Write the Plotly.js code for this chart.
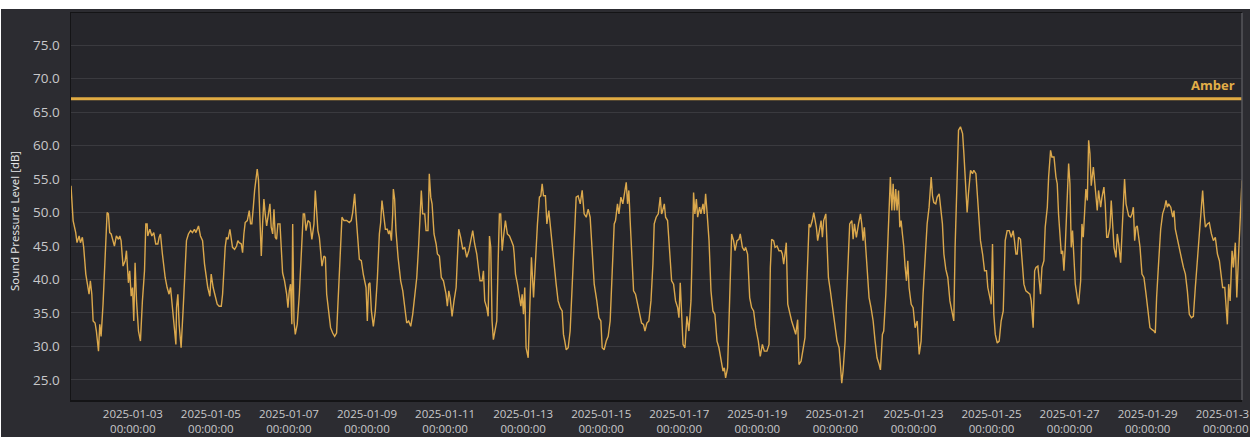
<!DOCTYPE html>
<html><head><meta charset="utf-8">
<script src="https://cdn.plot.ly/plotly-3.0.1.min.js"></script>
<style>
html,body{margin:0;padding:0;background:#ffffff;width:1250px;height:437px;overflow:hidden}
#chart{position:absolute;left:1px;top:9px;width:1249px;height:428px}
</style>
</head><body><div id="chart"></div>
<script>
// Hours since 2025-01-01 00:00 and sound pressure level readings [dB]
const hours = [
10.0,11.3,12.9,13.7,15.0,15.8,17.0,17.8,19.1,20.3,
21.1,21.9,22.8,23.6,24.8,25.6,26.9,27.7,28.5,29.7,
31.0,32.2,33.0,33.8,34.7,35.5,36.7,37.9,39.2,40.0,
40.8,42.0,43.3,44.1,45.3,46.1,47.0,47.8,48.6,49.4,
50.3,51.5,52.7,53.9,55.2,56.0,56.8,57.2,58.5,59.7,
60.9,62.1,63.4,64.2,65.0,66.2,67.9,69.1,70.3,71.2,
72.4,73.6,74.5,74.9,75.7,76.5,77.7,79.0,80.2,81.0,
82.2,83.5,84.7,85.9,86.8,88.4,89.6,90.9,92.1,93.3,
94.1,95.4,96.2,97.4,98.7,99.9,
101.1,102.4,103.2,104.0,104.8,105.6,106.5,107.7,108.5,109.3,
110.6,111.8,112.6,113.4,114.7,115.5,116.3,117.1,118.4,119.6,
120.4,121.2,122.1,122.9,124.5,125.3,126.2,127.0,127.8,128.6,
129.4,130.3,131.1,132.3,133.1,134.0,134.8,135.6,136.4,137.2,
138.5,139.3,140.1,141.3,142.6,143.4,144.2,145.0,145.8,146.3,
147.1,147.9,149.1,150.4,151.6,152.8,153.6,154.5,155.7,156.9,
158.1,159.4,160.2,161.0,161.8,162.7,163.5,164.3,165.5,166.4,
167.2,168.4,169.6,170.9,172.1,173.3,174.6,175.8,176.6,177.8,
179.5,181.1,182.3,183.2,184.4,185.2,186.5,187.3,188.5,189.7,
191.4,192.2,193.0,193.8,194.7,195.9,197.1,198.4,199.6,200.4,
201.2,202.0,203.3,204.5,205.3,206.1,207.0,207.8,208.2,209.0,
209.8,211.1,212.7,214.0,215.2,216.4,217.6,218.9,220.1,221.3,
222.6,223.8,224.6,225.4,226.2,227.5,228.3,229.5,230.3,231.2,
232.0,233.2,234.5,235.3,236.5,237.7,239.0,239.8,240.6,241.4,
242.3,243.1,244.3,245.5,246.8,247.6,248.4,249.6,250.9,252.1,
253.3,254.6,255.8,257.0,258.2,259.5,260.7,261.5,262.8,263.6,
264.4,265.6,266.5,267.3,268.1,268.9,269.7,271.0,271.8,272.6,
273.4,274.2,275.1,275.9,277.1,278.3,279.6,280.8,282.0,
282.5,283.3,284.5,285.7,286.6,287.4,288.2,289.0,289.8,291.1,
291.9,293.1,294.4,295.6,296.8,298.0,298.9,299.7,300.5,301.7,
302.6,303.8,304.6,305.8,307.1,308.3,309.5,310.8,312.0,312.8,
313.6,314.5,315.7,316.9,318.2,319.4,320.6,321.8,323.1,324.3,
325.5,326.8,328.0,329.2,330.5,331.7,333.3,334.6,335.8,336.6,
337.8,339.1,340.3,341.5,342.8,344.0,344.8,346.0,346.9,348.1,
349.3,350.1,351.4,352.2,353.0,353.8,354.7,355.9,357.1,358.4,
359.6,360.8,362.0,362.9,364.1,365.3,366.6,367.8,368.6,369.8,
371.1,372.3,373.1,
373.5,374.8,375.6,376.8,378.1,379.3,380.5,381.7,383.0,383.8,
384.6,385.4,386.3,387.5,388.7,389.9,391.2,392.0,392.8,393.6,
394.5,395.3,396.5,397.3,398.6,399.4,400.2,401.0,402.3,403.5,
404.7,405.9,407.2,408.4,409.6,410.9,411.7,412.5,413.7,414.6,
415.4,416.2,417.4,418.3,419.5,420.7,421.5,422.8,424.0,424.8,
426.0,427.3,428.5,429.7,431.0,432.6,433.8,435.1,436.3,437.9,
439.2,440.0,440.8,442.0,442.9,444.1,445.3,446.6,447.4,448.2,
449.0,449.8,450.7,451.9,453.1,454.4,455.6,456.8,457.6,458.9,
460.1,461.3,462.5,463.8,
464.6,465.8,466.7,467.5,468.3,469.1,470.4,471.2,472.0,472.8,
474.1,474.9,475.7,476.9,478.2,479.4,481.0,482.3,483.1,483.9,
484.7,486.0,486.8,488.0,488.8,490.1,490.9,491.7,492.9,494.2,
495.4,496.2,497.0,497.8,498.7,499.5,500.7,501.9,503.2,504.4,
505.6,506.9,507.7,508.9,509.7,511.0,512.2,513.0,513.8,514.7,
515.5,516.3,517.1,517.9,518.8,519.6,520.4,521.2,522.0,522.9,
523.7,524.5,525.3,526.6,527.8,529.0,530.3,531.5,532.7,533.9,
535.2,536.4,537.6,538.9,539.7,540.5,541.7,542.6,543.8,545.0,
545.8,546.7,547.9,549.1,550.4,551.6,552.8,553.6,554.9,
555.7,556.9,558.2,559.0,559.8,561.0,561.8,563.1,564.3,565.1,
566.4,567.2,568.4,569.2,570.5,571.7,572.9,573.7,575.0,575.8,
576.6,577.4,578.3,579.5,580.7,581.9,583.2,584.4,585.6,586.9,
588.1,589.3,590.1,591.0,591.8,592.6,593.8,594.7,595.9,597.1,
598.4,599.6,600.4,601.6,602.5,603.3,604.5,605.3,606.1,607.0,
608.2,609.0,610.3,611.1,612.3,613.1,614.4,615.6,616.4,617.2,
618.0,618.9,619.7,620.5,621.3,622.6,623.4,624.2,625.0,625.8,
626.7,627.5,628.7,629.5,630.8,631.6,632.4,633.2,634.0,634.9,
635.7,636.5,637.3,638.6,639.4,640.2,641.0,641.8,643.1,643.9,
645.1,645.9,646.8,
647.6,648.8,649.6,650.5,651.3,652.5,653.3,654.2,655.4,656.2,
657.0,657.8,658.7,659.5,660.3,661.5,662.4,663.2,664.0,664.8,
665.6,666.5,667.3,668.5,669.7,671.0,672.2,673.4,674.7,675.9,
676.7,677.5,678.8,680.0,681.2,682.5,683.3,684.1,684.9,686.2,
687.4,688.2,689.0,689.8,691.1,691.9,693.1,694.0,695.2,696.4,
697.6,698.9,700.1,701.3,702.6,703.8,705.0,705.8,706.7,707.5,
708.7,709.9,711.2,712.4,713.6,714.9,716.1,717.3,718.1,719.4,
720.2,721.0,721.8,722.7,723.9,724.7,725.9,726.8,728.0,729.2,
730.0
];
const spl = [
54,48.8,47,45.5,46.5,45.5,46.3,44.8,40.8,39.3,
37.8,39.8,37.8,33.8,33.5,32.3,29.3,33.3,31.5,36.3,
42.3,50,49.8,47,46.8,46,45,46.5,46,46.5,
45.8,42,42.8,44.3,39.5,41.3,37.5,38.8,33.8,42.5,
36.8,32.3,30.8,36.8,41.3,48.3,48.3,46.5,47.5,46.5,
47,45.3,45.3,46.3,46.8,43.8,40.3,38.8,37.8,38.8,
35.8,32.8,30.3,35.8,37.8,33.3,29.8,35.8,42.8,45.8,
46.8,47.3,47,47.5,47,48,46.5,45.8,42.3,40.3,
38.8,37.5,40.8,38.8,37.3,36.3,
36,36,37.8,41.8,44.8,46.3,46,47.5,46,44.8,
44.5,45,45.8,45.5,45.3,44,46.8,48.5,48.8,50.3,
48.3,48.3,50.8,53.3,56.5,54.8,48.8,43.5,48.3,52,
49.8,48,49.3,51.3,47.8,46.8,50.5,46.3,46,48.3,
48.3,45.3,41,39.8,37.8,35.8,38.3,39.3,33.3,48.3,
33.8,31.8,33.3,37.8,44.3,49.8,49.8,47.3,48.8,48.5,
46,48.3,53.3,49.8,47.3,46.3,43.8,42,43.5,43.3,
37.8,34.8,32.8,32,31.5,32,38.8,44.8,49.3,48.8,
48.8,48.5,48.8,50,52.8,49.8,45.3,43,42.8,40.8,
38.8,33.8,39.3,39.5,35.3,33,35.3,40.3,46.8,48.5,
51.8,50,47.5,47.5,46.8,47.3,45.8,49.8,53.5,52,
47.3,43.3,39.8,38.3,35.8,33.5,33.8,33,34.8,37.8,
40.3,45.3,50.8,53.3,49.8,49.8,47.3,47.3,55.8,52.3,
51.3,46.8,45.3,43.8,43.5,40.3,39.8,38.8,37.8,36,
38.3,37.3,34.5,36.8,38.8,43.3,47.5,46.3,44.5,44.8,
43.3,44.3,45.8,47.3,45.3,43.8,41.3,39.8,39.8,41.3,
36.8,35.8,34.5,46.5,44.8,33.8,31,32.8,33.8,42.3,
49.8,49.8,44.3,46.3,48.8,46.8,46.5,45.8,45,
43.8,40.8,39.3,37.3,36,37.8,34.8,38.8,29.8,28.3,
34.8,43.3,37.3,43.3,48.3,52.3,52.5,54.3,52.5,52.5,
48.3,50.3,48.3,44.8,41.8,39.3,36.8,35.8,35.3,31.8,
30.8,29.5,29.8,32.3,39.3,45.3,52.3,52.5,51.3,53.3,
49.8,49.3,50.5,49.3,44.8,39.3,36.8,34.3,33.8,29.8,
29.5,30.8,31.5,33.8,41.3,48.3,48.8,51.3,49.8,52.3,
51.3,52.5,54.5,51.3,53.3,48.8,44.8,38.3,37.8,36.3,
34.8,33.5,33.3,32.3,33.5,33.8,36.8,42.3,48.3,49.3,
49.8,52.3,49.8,
50,51.3,49.3,48.8,44.8,39.8,39.3,36.8,35.8,34.3,
39.5,33.8,30.3,29.8,34.5,32.3,36.8,44.8,53,49.8,
52,49.3,50.8,49.8,51.3,49.8,52.8,50.3,45.8,38.3,
35.3,34.8,30.8,29.8,27.8,26.3,26.8,25.3,26.8,33.8,
41.3,46.8,45.8,44.3,45.8,46,46.8,44.8,44.3,44.8,
43.8,37.3,35.8,35.3,32.8,30.8,28.5,30.3,29.3,29.3,
30.3,41.8,46,45.8,44.8,45,44.3,44.3,43.8,42.3,
43.8,45.5,36.3,34.8,33.8,32.8,31.8,34,27.3,27.8,
29.8,31.3,39.8,48.3,
47.8,48.8,50,48.8,47.8,45.8,47.8,48.8,46.3,48.8,
49.8,45.8,40.3,38.3,35.8,33.3,30.8,29.8,26.3,24.5,
26.3,30.8,36.8,43.8,48.3,48.8,46,48.3,46.3,48.3,
49.8,48.3,45.8,47.8,44.3,40.8,37.3,35.8,33.8,30.8,
28.3,27.3,26.5,31.8,32.3,37.8,44.8,49.8,55.3,50.3,
54.3,50.3,53.5,50.3,53.3,47.8,48.8,46.8,45,41.8,
39.8,42.8,38.8,36.3,35.8,32.8,33.8,28.8,30.8,37.8,
43.8,48.3,50.8,55.3,52.5,51.5,51.3,52.3,52.8,49.3,
48.3,43.8,41.5,40.3,36.8,35.3,33.8,44.8,57.3,
62.3,62.8,61.8,58.8,54.8,50,52.8,56.3,55.8,56.3,
55.8,52.8,49.8,45.8,43.8,41.3,41.3,38.8,37.3,36.3,
45.3,34.8,31.8,30.5,30.8,33.8,35.3,45.8,47.3,47.3,
46.3,47.3,45.8,43.8,43.8,46.3,46,42.8,39.3,38.3,
38,37.8,36.8,32.8,41.3,41.8,42,39.8,37.8,41.8,
42.8,47.8,50.8,55.3,59.3,58.3,58.3,55.3,54.3,49.8,
46.3,43.8,44.3,41.3,44.8,51.8,57.3,54.3,44.8,47.3,
43.8,39.3,37.3,36.3,39.8,48.3,46.3,51,53.5,51.8,
60.8,58.8,54,56.8,54.8,53.3,50.3,53.3,50.8,52.3,
53.8,51.3,46.3,
46.3,47.8,51.8,48.3,44.8,43.3,46.8,45.3,42.5,46.8,
51.8,55,51.3,50.5,49.5,49.3,49.8,50.8,45.8,47.8,
48,46.3,44.8,40.8,40.3,37.8,34.8,32.8,32.5,32.3,
32,37.3,42.8,47.5,49.8,50.8,51.8,50.8,51.3,50.8,
49.3,50.3,47.5,46.5,45,43.8,42.8,41.8,40.8,38.3,
34.8,34.3,34.5,38.8,43.3,46.8,50.3,53.3,49.8,47.8,
48.3,48.5,46.8,45.8,46.3,43.8,42.8,40.8,38.8,38.8,
35.8,33.3,39.3,36.8,44.3,41.8,45.5,37.3,44.3,51.8,
54.8
];
const amberLevel = 67;
const amberLabel = "Amber";
const yTicks = [25,30,35,40,45,50,55,60,65,70,75];
const xTickDates = ["2025-01-03","2025-01-05","2025-01-07","2025-01-09","2025-01-11","2025-01-13","2025-01-15",
  "2025-01-17","2025-01-19","2025-01-21","2025-01-23","2025-01-25","2025-01-27","2025-01-29","2025-01-31"];
const xTickTime = "00:00:00";
const xRange = ["2025-01-01 10:00:00","2025-01-31 10:00:00"];

if (hours.length !== spl.length) console.error("length mismatch", hours.length, spl.length);

const t0 = Date.UTC(2025,0,1);
function toStamp(h){ return new Date(t0 + Math.round(h*3600000)).toISOString().slice(0,19).replace('T',' '); }
const times = hours.map(toStamp);

const lineColor = "#dba84c";
const tickColor = "#c8c8ca";

const traces = [
  {x: times, y: spl, type: "scatter", mode: "lines", line: {color: lineColor, width: 1.4}, hoverinfo: "x+y", showlegend: false},
  {x: xRange, y: [amberLevel, amberLevel], type: "scatter", mode: "lines",
   line: {color: "#e0ab43", width: 3}, showlegend: false, hoverinfo: "skip"}
];

const layout = {
  paper_bgcolor: "#2c2c31",
  plot_bgcolor: "#26262b",
  margin: {l: 70, r: 8, t: 4, b: 37},
  font: {family: "Open Sans, Noto Sans, sans-serif", color: tickColor},
  showlegend: false,
  xaxis: {
    type: "date", range: xRange, showgrid: false, zeroline: false,
    tickmode: "array", tickvals: xTickDates, ticktext: xTickDates.map(d => d + "<br>" + xTickTime),
    ticks: "", tickfont: {size: 11.5, color: tickColor}, ticklabelstandoff: 3,
    ticklabeloverflow: "allow",
    showline: true, linecolor: "#141416", linewidth: 1.5, mirror: true
  },
  yaxis: {
    range: [22, 79.8], tickmode: "array", tickvals: yTicks, ticktext: yTicks.map(v => v.toFixed(1)),
    gridcolor: "#3a3a3f", gridwidth: 1, zeroline: false, ticks: "",
    tickfont: {size: 13.5, color: tickColor}, ticklabelstandoff: 7,
    showline: true, linecolor: "#141416", linewidth: 1.5
  },
  shapes: [
    {type: "line", xref: "paper", yref: "paper", x0: 1, x1: 1, y0: 0, y1: 1, line: {color: "#56565b", width: 1.5}}
  ],
  annotations: [
    {text: "<b>" + amberLabel + "</b>", xref: "paper", x: 1, xanchor: "right", xshift: -5,
     yref: "y", y: amberLevel, yanchor: "middle", yshift: 14, showarrow: false,
     font: {size: 13, color: "#e2ae48"}},
    {text: "Sound Pressure Level [dB]", xref: "paper", x: 0, xanchor: "center", xshift: -57,
     yref: "paper", y: 0.4625, yanchor: "middle", textangle: -90, showarrow: false,
     font: {size: 11.5, color: "#e8e8ea"}}
  ]
};

Plotly.newPlot("chart", traces, layout, {displayModeBar: false, staticPlot: true});
</script>
</body></html>
